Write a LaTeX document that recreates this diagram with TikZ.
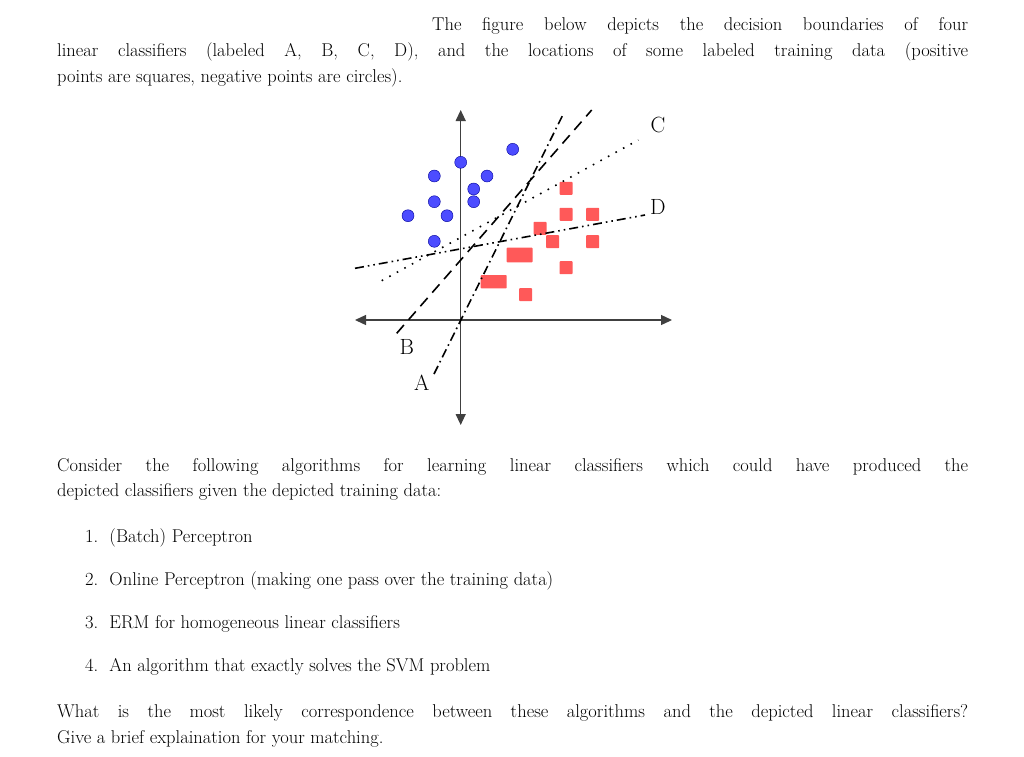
\documentclass[tikz,border=0pt]{standalone}
\usetikzlibrary{arrows.meta}
\begin{document}
\begin{tikzpicture}[x=1pt,y=-1pt,
  txt/.style={inner sep=0pt,anchor=base west,font=\fontsize{18.5}{24}\selectfont},
  negpt/.style={circle,fill=blue!70!white,draw=blue!60!black,line width=0.4pt,minimum size=12pt,inner sep=0pt},
  pospt/.style={rectangle,fill=red!65!white,minimum width=13pt,minimum height=13pt,inner sep=0pt,rounded corners=0.8pt},
  axis/.style={draw=black!75,line width=1.3pt,-{Triangle[length=11pt,width=10pt]}},
  bnd/.style={black,line width=1.6pt},
  lab/.style={font=\fontsize{22}{24}\selectfont,inner sep=0pt}]
\useasboundingbox (0,0) rectangle (1024,756);
\fill[white] (0,0) rectangle (1024,756);
% text
\node[txt] (t1) at (432,30) {\makebox[536pt][s]{The figure below depicts the decision boundaries of four}};
\node[txt] (t2) at (57,56) {\makebox[911pt][s]{linear classifiers (labeled A, B, C, D), and the locations of some labeled training data (positive}};
\node[txt] (t3) at (57,82) {points are squares, negative points are circles).};
\node[txt] (t4) at (57,471) {\makebox[911pt][s]{Consider the following algorithms for learning linear classifiers which could have produced the}};
\node[txt] (t5) at (57,496) {depicted classifiers given the depicted training data:};
\node[txt] (n1) at (85,542) {1.\ \ (Batch) Perceptron};
\node[txt] (n2) at (85,585) {2.\ \ Online Perceptron (making one pass over the training data)};
\node[txt] (n3) at (85,628) {3.\ \ ERM for homogeneous linear classifiers};
\node[txt] (n4) at (85,671) {4.\ \ An algorithm that exactly solves the SVM problem};
\node[txt] (t6) at (57,717) {\makebox[911pt][s]{What is the most likely correspondence between these algorithms and the depicted linear classifiers?}};
\node[txt] (t7) at (57,743) {Give a brief explaination for your matching.};
% axes
\coordinate (O) at (460.7,320);
\coordinate (xl) at (355,320); \coordinate (xr) at (672,320);
\coordinate (yt) at (460.7,110); \coordinate (yb) at (460.7,425);
\draw[axis] (O) -- (xr); \draw[axis] (O) -- (xl);
\draw[axis] (O) -- (yt); \draw[axis] (O) -- (yb);
% points
\foreach \p/\x/\y in {c1/512.7/149.3,c2/460.7/162.3,c3/434.3/176,c4/487/176,c5/473.7/189,c6/434.3/201.7,c7/473.7/201.7,c8/408/215.7,c9/447/215.7,c10/434.3/241.3}
  \node[negpt] (\p) at (\x,\y) {};
\foreach \p/\x/\y in {s1/566/188.3,s2/566/214.3,s3/592.7/214.3,s4/540/228.3,s5/552.7/241.7,s6/592.7/241.7,s7/566/267.7,s8/525.7/294.7}
  \node[pospt] (\p) at (\x,\y) {};
\node[pospt,minimum width=26pt,minimum height=14.6pt] (s9) at (519.7,255) {};
\node[pospt,minimum width=26pt,minimum height=13.3pt] (s10) at (493.7,281.7) {};
% boundaries
\coordinate (A1) at (434,374); \coordinate (A2) at (563.3,114);
\coordinate (B1) at (396.7,333.3); \coordinate (B2) at (591.7,110);
\coordinate (C1) at (381.7,280.7); \coordinate (C2) at (638.3,140);
\coordinate (D1) at (355,268.3); \coordinate (D2) at (645,215);
\draw[bnd,dash pattern=on 9pt off 4pt on 1.6pt off 4pt] (A1) -- (A2);
\draw[bnd,dash pattern=on 11pt off 7pt] (B1) -- (B2);
\draw[bnd,dash pattern=on 1.6pt off 7pt] (C1) -- (C2);
\draw[bnd,dash pattern=on 9pt off 4pt on 1.6pt off 4pt on 1.6pt off 4pt] (D1) -- (D2);
\node[lab] (lc) at (658,125) {C};
\node[lab] (ld) at (658,206.7) {D};
\node[lab] (lb) at (406.7,346.7) {B};
\node[lab] (la) at (421.7,383) {A};
\end{tikzpicture}
\end{document}
